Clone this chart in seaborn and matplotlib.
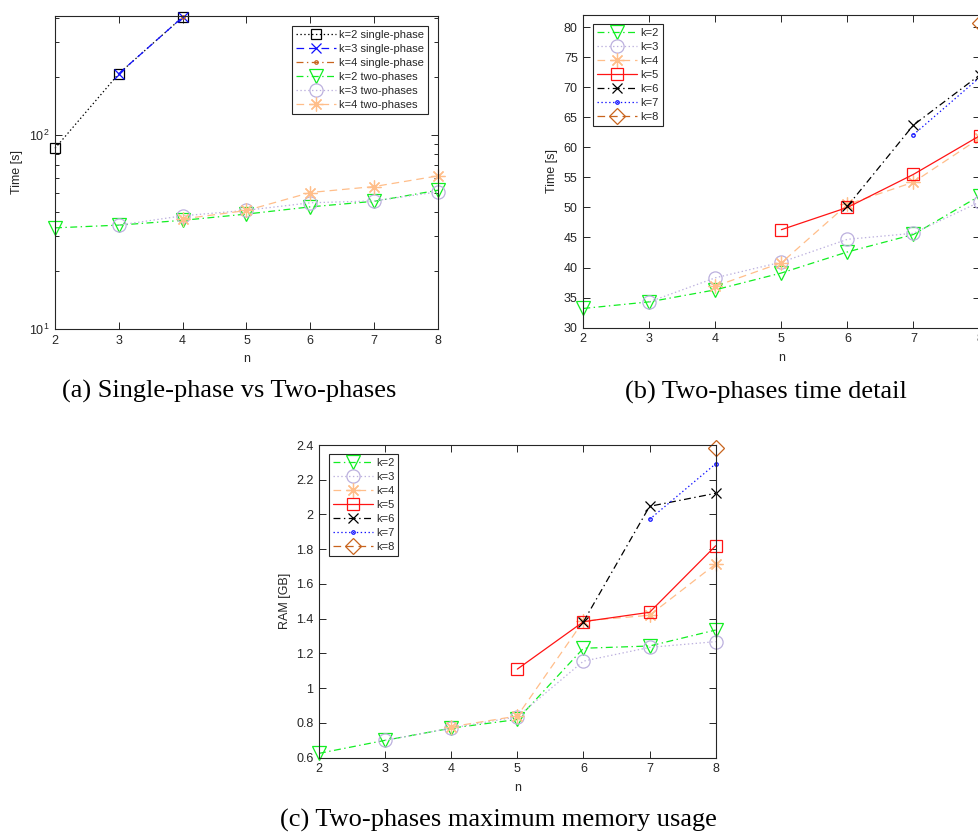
import matplotlib
matplotlib.use("Agg")
import matplotlib.pyplot as plt
from matplotlib.ticker import NullFormatter, LogLocator
import seaborn as sns
import pandas as pd

# Data
n_vals = [2, 3, 4, 5, 6, 7, 8]

# (a) single-phase times [s] (only up to n=4)
single_k2 = [85.3, 207, 405]
single_k3 = [207, 405]
single_k4 = [405]

# two-phases times [s], series k starts at n=k
time_k2 = [33.2, 34.3, 36.3, 39.1, 42.6, 45.5, 51.9]
time_k3 = [34.3, 38.3, 40.9, 44.7, 45.7, 50.9]
time_k4 = [36.9, 40.8, 50.5, 54.2, 61.5]
time_k5 = [46.3, 50.0, 55.5, 61.9]
time_k6 = [50.2, 63.7, 72.0]
time_k7 = [62.1, 71.6]
time_k8 = [80.7]

# two-phases max memory [GB]
ram_k2 = [0.625, 0.70, 0.77, 0.82, 1.23, 1.243, 1.335]
ram_k3 = [0.70, 0.77, 0.836, 1.156, 1.235, 1.268]
ram_k4 = [0.778, 0.84, 1.387, 1.42, 1.715]
ram_k5 = [1.11, 1.383, 1.437, 1.82]
ram_k6 = [1.383, 2.047, 2.122]
ram_k7 = [1.972, 2.292]
ram_k8 = [2.38]

captions = ["(a) Single-phase vs Two-phases",
            "(b) Two-phases time detail",
            "(c) Two-phases maximum memory usage"]


def to_frame(series, start_k):
    # long-form table: one row per (k, n) point, series k begins at n=k
    rows = []
    for i, vals in enumerate(series):
        k = start_k + i
        for j, v in enumerate(vals):
            rows.append({"k": k, "n": n_vals[k - 2 + j], "value": v})
    return pd.DataFrame(rows)


# line styles (MATLAB-like)
DASH = (0, (5.5, 3.5))
DASHDOT = (0, (5.0, 2.5, 1.0, 2.5))
DOT = (0, (1.0, 1.8))
AST = (8, 2, 0)

two_styles = {
    2: dict(color="#12EE22", ls=DASHDOT, marker="v", ms=9.5),
    3: dict(color="#BCB0DE", ls=DOT, marker="o", ms=9.5),
    4: dict(color="#FFBE8A", ls=DASH, marker=AST, ms=10),
    5: dict(color="#FF1414", ls="-", marker="s", ms=8),
    6: dict(color="#000000", ls=DASHDOT, marker="x", ms=7.5),
    7: dict(color="#1010FF", ls=DOT, marker=".", ms=5),
    8: dict(color="#C8641E", ls=DASH, marker="D", ms=8.5),
}
single_styles = {
    2: dict(color="#000000", ls=DOT, marker="s", ms=7),
    3: dict(color="#1010FF", ls=DASH, marker="x", ms=7),
    4: dict(color="#C8641E", ls=DASHDOT, marker=".", ms=5),
}

sns.set_style("ticks")
plt.rcParams["font.family"] = ["Liberation Sans", "DejaVu Sans"]
plt.rcParams["mathtext.fontset"] = "custom"
plt.rcParams["mathtext.rm"] = "Liberation Sans"
plt.rcParams["lines.scale_dashes"] = False

AX_COLOR = "#262626"
W, H = 979, 833


def draw(ax, df, styles, suffix=""):
    for k, st in styles.items():
        sub = df[df["k"] == k]
        if sub.empty:
            continue
        sns.lineplot(data=sub, x="n", y="value", ax=ax, errorbar=None,
                     color=st["color"], linestyle=st["ls"], linewidth=0.9,
                     marker=st["marker"], markersize=st["ms"],
                     markerfacecolor="none", markeredgecolor=st["color"],
                     markeredgewidth=0.9, clip_on=False,
                     label=f"k={k}{suffix}")


def style_axes(ax, ylabel):
    ax.set_xlim(2, 8)
    ax.set_xticks(n_vals)
    ax.set_xlabel("n", fontsize=9, color=AX_COLOR, labelpad=5)
    ax.set_ylabel(ylabel, fontsize=9, color=AX_COLOR, labelpad=4)
    ax.tick_params(which="both", direction="in", top=True, right=True,
                   colors=AX_COLOR, labelsize=9, width=0.7)
    ax.tick_params(which="major", length=5, pad=4)
    ax.tick_params(which="minor", length=3)
    for sp in ax.spines.values():
        sp.set_visible(True)
        sp.set_color(AX_COLOR)
        sp.set_linewidth(0.8)


def add_legend(ax, loc, anchor):
    leg = ax.legend(loc=loc, bbox_to_anchor=anchor, borderaxespad=0,
                    fontsize=8, handlelength=3.6, handletextpad=0.3,
                    labelspacing=0.36, borderpad=0.35, fancybox=False,
                    framealpha=1, edgecolor=AX_COLOR, numpoints=1)
    leg.get_frame().set_linewidth(0.8)
    for t in leg.get_texts():
        t.set_color(AX_COLOR)


def px_rect(left, right, top, bottom):
    return [left / W, 1 - bottom / H, (right - left) / W, (bottom - top) / H]


fig = plt.figure(figsize=(W / 100, H / 100), dpi=100)

# (a) single-phase vs two-phases, log scale
ax_a = fig.add_axes(px_rect(55, 438, 16, 329))
single_df = to_frame([single_k2, single_k3, single_k4], 2)
time_df = to_frame([time_k2, time_k3, time_k4, time_k5, time_k6, time_k7, time_k8], 2)
draw(ax_a, single_df, single_styles, " single-phase")
draw(ax_a, time_df[time_df["k"] <= 4], {k: two_styles[k] for k in (2, 3, 4)}, " two-phases")
ax_a.set_yscale("log")
ax_a.set_ylim(10, 410)
ax_a.yaxis.set_minor_locator(LogLocator(base=10, subs=range(2, 10)))
ax_a.yaxis.set_minor_formatter(NullFormatter())
style_axes(ax_a, "Time [s]")
add_legend(ax_a, "upper right", (1 - 10 / 383, 1 - 10 / 313))

# (b) two-phases time detail (right edge cut by the page)
ax_b = fig.add_axes(px_rect(583.3, 979.5, 15, 327.7))
draw(ax_b, time_df, two_styles)
ax_b.set_ylim(30, 82)
ax_b.set_yticks(range(30, 81, 5))
style_axes(ax_b, "Time [s]")
add_legend(ax_b, "upper left", (10 / 396, 1 - 9 / 312.7))

# (c) memory usage
ax_c = fig.add_axes(px_rect(319, 715.7, 445, 757.7))
ram_df = to_frame([ram_k2, ram_k3, ram_k4, ram_k5, ram_k6, ram_k7, ram_k8], 2)
draw(ax_c, ram_df, two_styles)
ax_c.set_ylim(0.6, 2.4)
ax_c.set_yticks([0.6, 0.8, 1, 1.2, 1.4, 1.6, 1.8, 2, 2.2, 2.4])
ax_c.set_yticklabels(["0.6", "0.8", "1", "1.2", "1.4", "1.6", "1.8", "2", "2.2", "2.4"])
style_axes(ax_c, "RAM [GB]")
add_legend(ax_c, "upper left", (10 / 396.7, 1 - 9 / 312.7))

# captions under each panel
cap_font = dict(family=["Liberation Serif", "DejaVu Serif"], fontsize=19,
                ha="center", va="center", color="black")
fig.text(229 / W, 1 - 391 / H, captions[0], **cap_font)
fig.text(766 / W, 1 - 392 / H, captions[1], **cap_font)
fig.text(498 / W, 1 - 820 / H, captions[2], **cap_font)

fig.savefig("out.png", dpi=100)
